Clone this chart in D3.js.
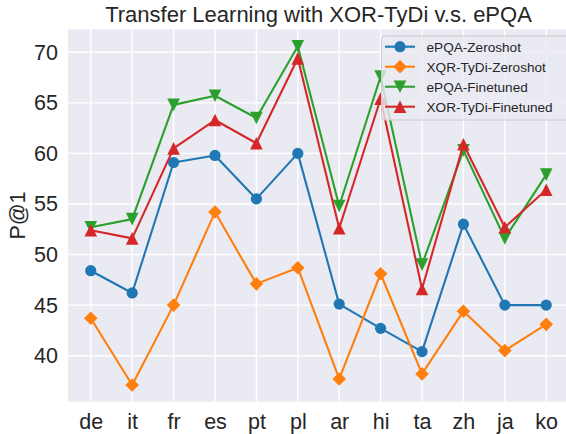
<!DOCTYPE html>
<html>
<head>
<meta charset="utf-8">
<script src="https://cdn.jsdelivr.net/npm/d3@7/dist/d3.min.js"></script>
<style>
  html, body { margin: 0; padding: 0; background: #ffffff; }
  svg { display: block; font-family: Arial, "Liberation Sans", Helvetica, sans-serif; }
</style>
</head>
<body>
<svg id="chart" width="566" height="434"></svg>
<script>
const languages = ["de", "it", "fr", "es", "pt", "pl", "ar", "hi", "ta", "zh", "ja", "ko"];
const yTicks = [40, 45, 50, 55, 60, 65, 70];
const seriesNames = ["ePQA-Zeroshot", "XQR-TyDi-Zeroshot", "ePQA-Finetuned", "XOR-TyDi-Finetuned"];
const ePQAZeroshot = [48.4, 46.2, 59.1, 59.8, 55.5, 60.0, 45.1, 42.7, 40.4, 53.0, 45.0, 45.0];
const xorTyDiZeroshot = [43.7, 37.1, 45.0, 54.2, 47.1, 48.7, 37.7, 48.1, 38.2, 44.4, 40.5, 43.1];
const ePQAFinetuned = [52.7, 53.5, 64.8, 65.7, 63.5, 70.6, 54.8, 67.6, 49.0, 60.3, 51.6, 57.9];
const xorTyDiFinetuned = [52.4, 51.6, 60.5, 63.3, 61.0, 69.4, 52.6, 65.4, 46.6, 60.9, 52.7, 56.4];
const seriesColors = ["#1f77b4", "#ff7f0e", "#2ca02c", "#d62728"];
const seriesMarkers = ["circle", "diamond", "triDown", "triUp"];

const allSeries = [ePQAZeroshot, xorTyDiZeroshot, ePQAFinetuned, xorTyDiFinetuned];

const svg = d3.select("#chart");
const plot = { left: 68, right: 569, top: 29.3, bottom: 401.7 };
const FONT = "Arial, 'Liberation Sans', sans-serif";

// matplotlib-style 5% margins on the category axis
const xPos = d3.scaleLinear().domain([-0.55, languages.length - 1 + 0.55]).range([plot.left, plot.right]);
const xc = name => xPos(languages.indexOf(name));

const y = d3.scaleLinear().domain([35.45, 72.27]).range([plot.bottom, plot.top]);

// background
svg.append("rect").attr("x", plot.left).attr("y", plot.top)
  .attr("width", plot.right - plot.left).attr("height", plot.bottom - plot.top)
  .attr("fill", "#eaeaf2");

// grid
const grid = svg.append("g");
grid.selectAll("line.h").data(yTicks).enter().append("line")
  .attr("x1", plot.left).attr("x2", plot.right)
  .attr("y1", d => y(d)).attr("y2", d => y(d))
  .attr("stroke", "#ffffff").attr("stroke-width", 1.4);
grid.selectAll("line.v").data(languages).enter().append("line")
  .attr("y1", plot.top).attr("y2", plot.bottom)
  .attr("x1", d => xc(d)).attr("x2", d => xc(d))
  .attr("stroke", "#ffffff").attr("stroke-width", 1.4);

// y axis labels
const yAxis = d3.axisLeft(y).tickValues(yTicks).tickSize(0).tickPadding(10);
const yg = svg.append("g").attr("transform", `translate(${plot.left},0)`).call(yAxis);
yg.select(".domain").remove();
yg.selectAll("text").attr("font-size", 21.5).attr("fill", "#262626").attr("font-family", FONT);

// x axis labels
const xAxis = d3.axisBottom(xPos).tickValues(d3.range(languages.length))
  .tickFormat(i => languages[i]).tickSize(0).tickPadding(12);
const xg = svg.append("g").attr("transform", `translate(0,${plot.bottom})`).call(xAxis);
xg.select(".domain").remove();
xg.selectAll("text").attr("font-size", 21.5).attr("fill", "#262626").attr("font-family", FONT);

// title
svg.append("text").attr("x", (plot.left + plot.right) / 2).attr("y", 22)
  .attr("text-anchor", "middle").attr("font-size", 22).attr("fill", "#262626")
  .attr("font-family", FONT)
  .text("Transfer Learning with XOR-TyDi v.s. ePQA");

// y label
svg.append("text").attr("transform", `translate(25,${(plot.top + plot.bottom) / 2}) rotate(-90)`)
  .attr("text-anchor", "middle").attr("font-size", 21.5).attr("fill", "#262626")
  .attr("font-family", FONT)
  .text("P@1");

function markerPath(type, cx, cy) {
  if (type === "circle") {
    const r = 5.6;
    return `M${cx + r},${cy} A${r},${r} 0 1,1 ${cx - r},${cy} A${r},${r} 0 1,1 ${cx + r},${cy} Z`;
  }
  if (type === "diamond") {
    const d = 6.8;
    return `M${cx},${cy - d} L${cx + d},${cy} L${cx},${cy + d} L${cx - d},${cy} Z`;
  }
  const t = 6.3;
  if (type === "triDown") {
    return `M${cx - t},${cy - t} L${cx + t},${cy - t} L${cx},${cy + t} Z`;
  }
  return `M${cx - t},${cy + t} L${cx + t},${cy + t} L${cx},${cy - t} Z`;
}

svg.append("defs").append("clipPath").attr("id", "plotclip")
  .append("rect").attr("x", plot.left).attr("y", plot.top)
  .attr("width", plot.right - plot.left).attr("height", plot.bottom - plot.top);

const line = d3.line().x((d, i) => xPos(i)).y(d => y(d));
const series = svg.append("g").attr("clip-path", "url(#plotclip)");
allSeries.forEach((vals, si) => {
  const g = series.append("g");
  g.append("path").datum(vals).attr("d", line)
    .attr("fill", "none").attr("stroke", seriesColors[si]).attr("stroke-width", 2.1)
    .attr("stroke-linejoin", "round");
  g.selectAll("path.m").data(vals).enter().append("path")
    .attr("class", "m")
    .attr("d", (d, i) => markerPath(seriesMarkers[si], xPos(i), y(d)))
    .attr("fill", seriesColors[si]);
});

// legend
const lg = svg.append("g");
lg.append("rect").attr("x", 381.5).attr("y", 36).attr("width", 200).attr("height", 84)
  .attr("rx", 3).attr("fill", "#eaeaf2").attr("fill-opacity", 0.8)
  .attr("stroke", "#cccccc").attr("stroke-width", 1);
seriesNames.forEach((name, i) => {
  const cy = 46.7 + i * 20;
  lg.append("line").attr("x1", 385).attr("x2", 415).attr("y1", cy).attr("y2", cy)
    .attr("stroke", seriesColors[i]).attr("stroke-width", 2.1);
  lg.append("path").attr("d", markerPath(seriesMarkers[i], 400, cy)).attr("fill", seriesColors[i]);
  lg.append("text").attr("x", 426.5).attr("y", cy + 4.8).attr("font-size", 13.6)
    .attr("fill", "#262626").attr("font-family", FONT).text(name);
});
</script>
</body>
</html>
